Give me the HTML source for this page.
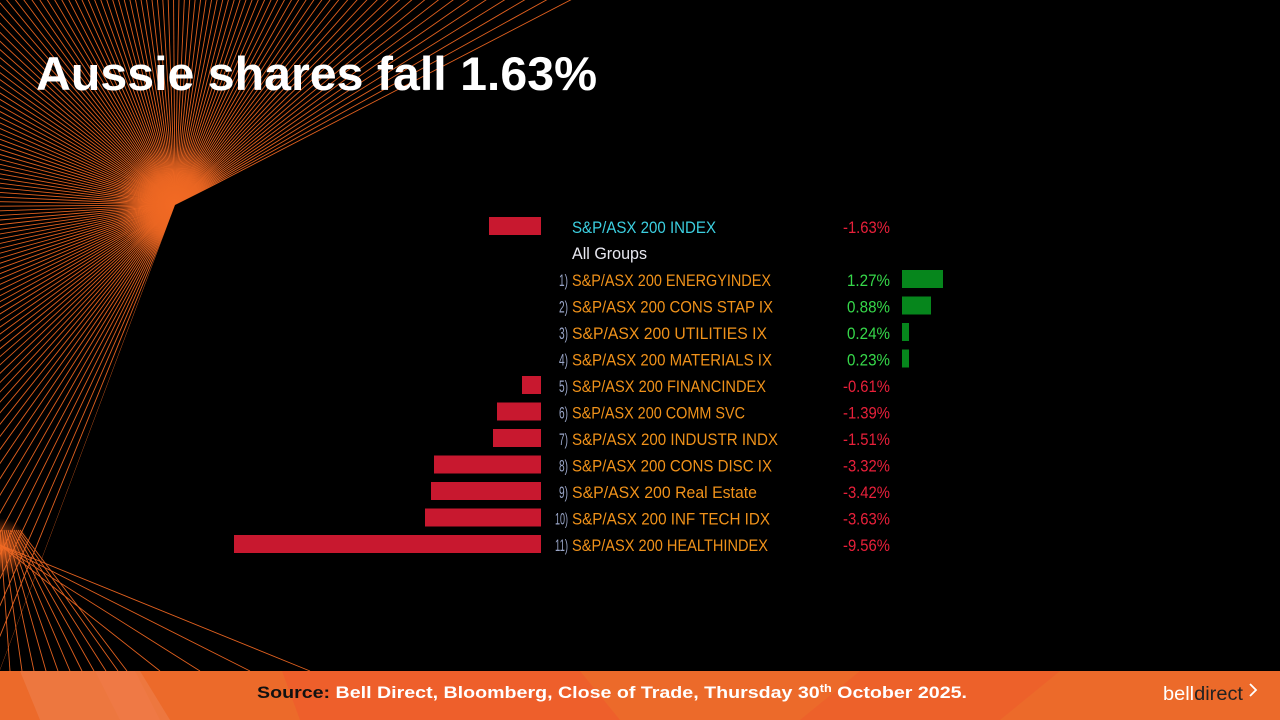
<!DOCTYPE html>
<html><head><meta charset="utf-8"><style>
html,body{margin:0;padding:0;background:#000;width:1280px;height:720px;overflow:hidden;}
svg{display:block}
</style></head><body>
<svg id="s" width="1280" height="720" viewBox="0 0 1280 720" xmlns="http://www.w3.org/2000/svg">
<defs>
<radialGradient id="g1" cx="175" cy="205" r="60" gradientUnits="userSpaceOnUse">
<stop offset="0" stop-color="#f26a24" stop-opacity="1"/>
<stop offset="0.5" stop-color="#f26a24" stop-opacity="0.6"/>
<stop offset="1" stop-color="#f26a24" stop-opacity="0"/>
</radialGradient>
<radialGradient id="g2" cx="0" cy="548" r="30" gradientUnits="userSpaceOnUse">
<stop offset="0" stop-color="#f26a24" stop-opacity="1"/>
<stop offset="1" stop-color="#f26a24" stop-opacity="0"/>
</radialGradient>
</defs>
<rect width="1280" height="720" fill="#000"/>
<g id="rays" stroke="#e0601f" stroke-width="0.9"></g>
<circle cx="175" cy="205" r="60" fill="url(#g1)"/>
<polygon points="175,205 585,0 1280,0 1280,720 0,720 0,670" fill="#000"/>
<g id="rays2" stroke="#e0601f" stroke-width="0.9"></g>
<circle cx="0" cy="548" r="30" fill="url(#g2)"/>

<text x="36" y="90" fill="#fff" font-family="Liberation Sans, sans-serif" font-weight="bold" font-size="47" textLength="561" lengthAdjust="spacingAndGlyphs">Aussie shares fall 1.63%</text>

<g font-family="Liberation Sans, sans-serif" font-size="17">
<rect x="489" y="217" width="52" height="18" fill="#c8182f"/>
<text x="572" y="233" fill="#3ccfe0" textLength="144" lengthAdjust="spacingAndGlyphs">S&amp;P/ASX 200 INDEX</text>
<text x="843" y="233" fill="#e8203a" textLength="47" lengthAdjust="spacingAndGlyphs">-1.63%</text>
<text x="572" y="259" fill="#e8e8f0" textLength="75" lengthAdjust="spacingAndGlyphs">All Groups</text>
</g>
<g id="rows" font-family="Liberation Sans, sans-serif" font-size="17"></g>

<rect x="0" y="671" width="1280" height="49" fill="#ec6a2a"/>
<polygon points="20,671 140,671 170,720 40,720" fill="#ee7a45" opacity="0.8"/>
<polygon points="95,671 135,671 160,720 120,720" fill="#f07b4a" opacity="0.6"/>
<polygon points="282,671 580,671 620,720 300,720" fill="#ef5b2c" opacity="0.7"/>
<polygon points="860,671 1060,671 1000,720 800,720" fill="#ef5b2c" opacity="0.6"/>
<text x="612" y="698" text-anchor="middle" font-family="Liberation Sans, sans-serif" font-weight="bold" font-size="17" fill="#fff" textLength="710" lengthAdjust="spacingAndGlyphs"><tspan fill="#111">Source: </tspan>Bell Direct, Bloomberg, Close of Trade, Thursday 30<tspan font-size="11" dy="-6">th</tspan><tspan dy="6"> October 2025.</tspan></text>
<text x="1163" y="700" font-family="Liberation Sans, sans-serif" font-size="19" fill="#fff" textLength="80" lengthAdjust="spacingAndGlyphs">bell<tspan fill="#222">direct</tspan></text>
<polyline points="1250,684 1256,690 1250,696" fill="none" stroke="#fff" stroke-width="1.8"/>
</svg>
<script>
var NS="http://www.w3.org/2000/svg";
var g=document.getElementById("rays");
var a0=110.6,a1=333.4;
for(var a=a0;a<=a1;a+=1.5){var r=a*Math.PI/180;var l=document.createElementNS(NS,"line");
l.setAttribute("x1",175);l.setAttribute("y1",205);l.setAttribute("x2",175+1500*Math.cos(r));l.setAttribute("y2",205+1500*Math.sin(r));g.appendChild(l);}
var g2=document.getElementById("rays2");
var xs=[10,22,34,46,58,70,82,94,106,118,127,160,200,250,310];
xs.forEach(function(x,i){var l=document.createElementNS(NS,"line");
var sx=i<11?Math.min(20,i*2):0;
l.setAttribute("x1",sx);l.setAttribute("y1",i<11?530:545);l.setAttribute("x2",x);l.setAttribute("y2",671);g2.appendChild(l);});
var rows=[["1)","S&P/ASX 200 ENERGYINDEX","1.27%",1.27,199],["2)","S&P/ASX 200 CONS STAP IX","0.88%",0.88,201],["3)","S&P/ASX 200 UTILITIES IX","0.24%",0.24,195],["4)","S&P/ASX 200 MATERIALS IX","0.23%",0.23,200],["5)","S&P/ASX 200 FINANCINDEX","-0.61%",-0.61,194],["6)","S&P/ASX 200 COMM SVC","-1.39%",-1.39,173],["7)","S&P/ASX 200 INDUSTR INDX","-1.51%",-1.51,206],["8)","S&P/ASX 200 CONS DISC IX","-3.32%",-3.32,200],["9)","S&P/ASX 200 Real Estate","-3.42%",-3.42,185],["10)","S&P/ASX 200 INF TECH IDX","-3.63%",-3.63,198],["11)","S&P/ASX 200 HEALTHINDEX","-9.56%",-9.56,196]];
var negW=[19,44,48,107,110,116,307];var posW=[41,29,7,7];
var R=document.getElementById("rows");
function t(x,y,s,c,len){var e=document.createElementNS(NS,"text");e.setAttribute("x",x);e.setAttribute("y",y);e.setAttribute("fill",c);if(len){e.setAttribute("textLength",len);e.setAttribute("lengthAdjust","spacingAndGlyphs");}e.textContent=s;R.appendChild(e);}
rows.forEach(function(r,i){var cy=279+i*26.5;var y=cy+7;
var nl=r[0].length>2?13:9;
t(568-nl,y,r[0],"#9aa6c8",nl);
t(572,y,r[1],"#f0921a",r[4]);
var neg=r[3]<0;
if(neg)t(843,y,r[2],"#e8203a",47);else t(847,y,r[2],"#36d84a",43);
var b=document.createElementNS(NS,"rect");b.setAttribute("y",cy-9);b.setAttribute("height",18);
if(neg){var w=negW[i-4];b.setAttribute("x",541-w);b.setAttribute("width",w);b.setAttribute("fill","#c8182f");}
else{b.setAttribute("x",902);b.setAttribute("width",posW[i]);b.setAttribute("fill","#06861c");}
R.appendChild(b);});
</script>
</body></html>
